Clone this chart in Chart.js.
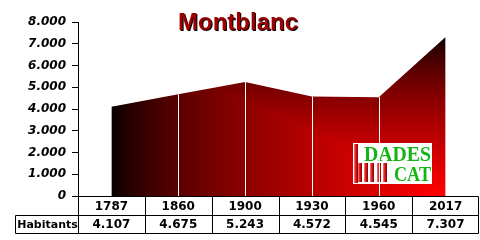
<!DOCTYPE html>
<html><head><meta charset="utf-8">
<script src="https://cdn.jsdelivr.net/npm/chart.js@4"></script>
<style>html,body{margin:0;padding:0;background:#fff;}#wrap{width:480px;height:240px;}</style>
</head><body><div id="wrap"><canvas id="c" width="480" height="240"></canvas></div>
<script>
const chartTitle = 'Montblanc';
const years = ['1787', '1860', '1900', '1930', '1960', '2017'];
const habitants = [4107, 4675, 5243, 4572, 4545, 7307];
const seriesName = 'Habitants';
const yMin = 0, yMax = 8000, yStep = 1000;
const logoLines = ['DADES', 'CAT'];

function fmt(v) { return String(v).replace(/\B(?=(\d{3})+(?!\d))/g, '.'); }

let fillCache = null;
function areaFill(context) {
  const chart = context.chart;
  const ca = chart.chartArea;
  const xs = chart.scales.x, ys = chart.scales.y;
  if (!ca || !xs || !ys) return 'rgba(0,0,0,0)';
  const x0 = xs.getPixelForValue(0), x1 = xs.getPixelForValue(years.length - 1);
  const yB = ys.getPixelForValue(yMin), yT = ys.getPixelForValue(Math.max(...habitants));
  const key = [x0, x1, yB, yT].join(',');
  if (fillCache && fillCache.key === key) return fillCache.pat;
  const W = chart.width, H = chart.height;
  const off = document.createElement('canvas'); off.width = W; off.height = H;
  const o = off.getContext('2d');
  const img = o.createImageData(W, H);
  for (let y = 0; y < H; y++) {
    for (let x = 0; x < W; x++) {
      let t = Math.max((x1 - x) / (x1 - x0), (yB - y) / (yB - yT));
      t = Math.min(1, Math.max(0, t));
      const r = Math.round(255 * Math.pow(1 - t, 0.65));
      const i = (y * W + x) * 4;
      img.data[i] = r; img.data[i + 1] = 0; img.data[i + 2] = 0; img.data[i + 3] = 255;
    }
  }
  o.putImageData(img, 0, 0);
  const pat = chart.ctx.createPattern(off, 'no-repeat');
  fillCache = { key, pat };
  return pat;
}

const decor = {
  id: 'decor',
  afterDatasetsDraw(chart) {
    const ctx = chart.ctx, xs = chart.scales.x, ys = chart.scales.y, ca = chart.chartArea;
    ctx.save();
    // logo
    const lx = 353, ly = 143, lw = 79, lh = 41;
    ctx.fillStyle = '#ffffff';
    ctx.fillRect(lx, ly, lw, lh);
    const bar = (bx, by, bw, bh) => {
      const g = ctx.createLinearGradient(bx, 0, bx + bw, 0);
      g.addColorStop(0, '#ff8080'); g.addColorStop(0.45, '#e01818'); g.addColorStop(1, '#7a0000');
      ctx.fillStyle = g; ctx.fillRect(bx, by, bw, bh);
    };
    bar(lx + 1, ly + 1, 4, lh - 2);
    [358, 364, 370, 377, 383].forEach(bx => bar(bx, 163, 4, 19));
    ctx.fillStyle = '#14b414';
    ctx.font = 'bold 20px "Liberation Serif"';
    ctx.textAlign = 'left'; ctx.textBaseline = 'alphabetic';
    ctx.fillText(logoLines[0], 364, 161, 67);
    ctx.fillText(logoLines[1], 394, 181, 37);
    // drop lines
    ctx.strokeStyle = '#ffffff'; ctx.lineWidth = 1;
    for (let i = 1; i < years.length - 1; i++) {
      const x = Math.round(xs.getPixelForValue(i)) + 0.5;
      ctx.beginPath();
      ctx.moveTo(x, ys.getPixelForValue(habitants[i]));
      ctx.lineTo(x, ca.bottom);
      ctx.stroke();
    }
    ctx.restore();
  },
  afterDraw(chart) {
    const ctx = chart.ctx, xs = chart.scales.x, ca = chart.chartArea;
    ctx.save();
    // title
    ctx.font = 'bold 24px "Liberation Sans"';
    ctx.textAlign = 'center'; ctx.textBaseline = 'alphabetic';
    ctx.fillStyle = '#000000';
    ctx.fillText(chartTitle, 239, 31);
    ctx.fillStyle = '#9c0000';
    ctx.fillText(chartTitle, 238, 30);
    // table
    const n = years.length;
    const edges = [ca.left];
    for (let i = 1; i < n; i++) edges.push((xs.getPixelForValue(i - 1) + xs.getPixelForValue(i)) / 2);
    edges.push(ca.right);
    const al = v => Math.round(v) + 0.5;
    const r0 = ca.bottom, r1 = ca.bottom + 19, r2 = ca.bottom + 37;
    const headLeft = 15;
    ctx.strokeStyle = '#000000'; ctx.lineWidth = 1;
    ctx.beginPath();
    ctx.moveTo(al(ca.left), al(r0)); ctx.lineTo(al(ca.right) - 1, al(r0));
    ctx.moveTo(al(headLeft), al(r1)); ctx.lineTo(al(ca.right) - 1, al(r1));
    ctx.moveTo(al(headLeft), al(r2)); ctx.lineTo(al(ca.right) - 1, al(r2));
    edges.forEach((e, k) => { const x = k === edges.length - 1 ? al(e) - 1 : al(e); ctx.moveTo(x, al(r0)); ctx.lineTo(x, al(r2)); });
    ctx.moveTo(al(headLeft), al(r1)); ctx.lineTo(al(headLeft), al(r2));
    ctx.stroke();
    ctx.fillStyle = '#000000';
    ctx.textAlign = 'center'; ctx.textBaseline = 'middle';
    ctx.font = 'bold 12px "DejaVu Sans"';
    for (let i = 0; i < n; i++) {
      const cx = (edges[i] + edges[i + 1]) / 2;
      ctx.fillText(years[i], cx, (r0 + r1) / 2 + 1);
      ctx.fillText(fmt(habitants[i]), cx, (r1 + r2) / 2 + 1);
    }
    ctx.font = 'bold 11px "DejaVu Sans"';
    ctx.fillText(seriesName, (headLeft + ca.left) / 2 + 1, (r1 + r2) / 2 + 1, ca.left - headLeft - 2);
    ctx.restore();
  }
};

new Chart(document.getElementById('c'), {
  type: 'line',
  data: {
    labels: years,
    datasets: [{
      label: seriesName,
      data: habitants,
      fill: 'origin',
      backgroundColor: areaFill,
      borderWidth: 0,
      borderColor: 'rgba(0,0,0,0)',
      pointRadius: 0,
      tension: 0
    }]
  },
  options: {
    responsive: false,
    animation: false,
    layout: { padding: { top: 22, bottom: 44, left: 0, right: 1 } },
    plugins: { legend: { display: false }, title: { display: false }, tooltip: { enabled: false } },
    scales: {
      x: {
        type: 'category',
        offset: true,
        grid: { display: false },
        border: { display: false },
        ticks: { display: false },
        afterFit(s) { s.height = 0; }
      },
      y: {
        min: yMin, max: yMax,
        ticks: {
          stepSize: yStep,
          padding: 6,
          color: '#000000',
          font: { family: 'DejaVu Sans', size: 12, weight: 'bold', style: 'italic' },
          callback: v => fmt(v)
        },
        grid: { drawOnChartArea: false, drawTicks: true, tickLength: 6, color: '#000000', lineWidth: 1 },
        border: { display: true, color: '#000000', width: 1 },
        afterFit(s) { s.width = 78; }
      }
    }
  },
  plugins: [decor]
});
</script>
</body></html>
